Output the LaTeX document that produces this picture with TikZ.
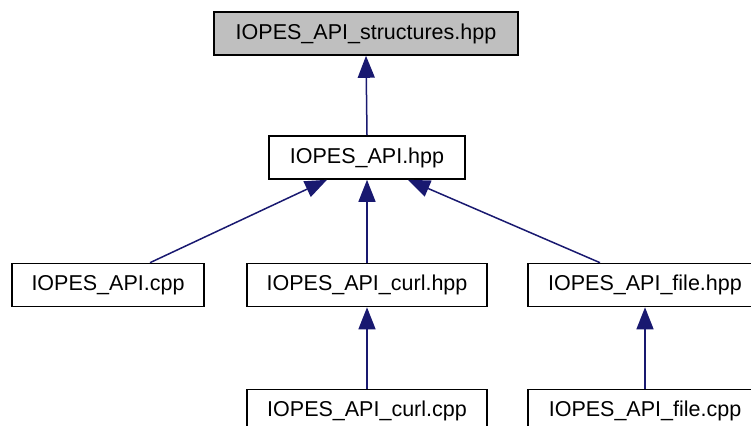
\documentclass[tikz,border=0pt]{standalone}
\usepackage{fontspec}
\setmainfont{Liberation Sans}
\usepackage{tikz}
\usetikzlibrary{calc,arrows.meta,positioning}
\definecolor{edgeblue}{HTML}{191970}
\definecolor{boxgray}{HTML}{BFBFBF}

\begin{document}
\begin{tikzpicture}[x=1pt,y=-1pt,
  file/.style={draw=black,line width=1.6pt,fill=white,inner sep=0pt,minimum height=43pt,font=\fontsize{21.5}{24}\selectfont},
  arr/.style={-{Triangle[length=22pt,width=17pt]},draw=edgeblue,line width=1.5pt}]
  \clip (0,0) rectangle (751,425);

  \node[file,fill=boxgray,minimum width=304pt] (s1) at (366,33.5) {IOPES\_API\_structures.hpp};
  \node[file,minimum width=196pt] (a1) at (367,157.5) {IOPES\_API.hpp};

  \node[file,minimum width=192pt] (c1) at (108,285) {IOPES\_API.cpp};
  \node[file,minimum width=240pt] (c2) at (367,285) {IOPES\_API\_curl.hpp};
  \node[file,minimum width=234pt] (c3) at (645,285) {IOPES\_API\_file.hpp};

  \node[file,minimum width=240pt] (d1) at (367,411) {IOPES\_API\_curl.cpp};
  \node[file,minimum width=234pt] (d2) at (645,411) {IOPES\_API\_file.cpp};

  \draw[arr] (a1.north) -- (s1.south);
  \draw[arr] ([xshift=42pt]c1.north) -- ([xshift=-40pt]a1.south);
  \draw[arr] (c2.north) -- (a1.south);
  \draw[arr] ([xshift=-45pt]c3.north) -- ([xshift=41pt]a1.south);
  \draw[arr] (d1.north) -- (c2.south);
  \draw[arr] (d2.north) -- (c3.south);
\end{tikzpicture}
\end{document}
